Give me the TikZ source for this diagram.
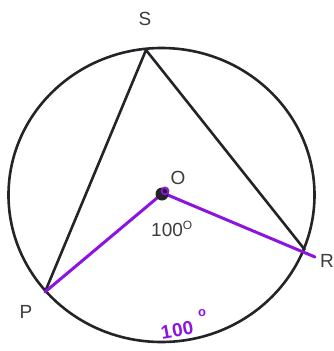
\documentclass[tikz,border=0pt]{standalone}
\usepackage{fontspec}
\setmainfont{Liberation Sans}
\definecolor{ink}{RGB}{35,35,40}
\definecolor{txt}{RGB}{60,60,60}
\definecolor{purp}{RGB}{140,20,225}

\begin{document}
\begin{tikzpicture}[x=1pt,y=-1pt,
  lbl/.style={text=txt,font=\fontsize{19}{22}\selectfont,inner sep=0pt},
  chord/.style={draw=ink,line width=2.6pt,line join=round},
  radius line/.style={draw=purp,line width=3pt,line cap=round}]
  \useasboundingbox (0,0) rectangle (334,351);
  % points on the circle
  \coordinate (C) at (161.5,195);
  \coordinate (O) at (163,193);
  \coordinate (S) at (146,50);
  \coordinate (P) at (45,292);
  \coordinate (R) at (305,250);
  \coordinate (Rx) at (315,257);
  \draw[chord] (C) ellipse [x radius=153,y radius=147];
  \draw[chord] (P) -- (S) -- (R);
  % radii to P and R
  \draw[radius line] (P) -- (O) -- (Rx);
  \fill[ink] (O) ++(-1,1) circle [radius=6.5];
  \draw[purp,line width=1.8pt] (O) ++(2,-2) circle [radius=3.5];
  % labels
  \node[lbl] (lS) at (145,19) {S};
  \node[lbl] (lO) at (178,178) {O};
  \node[lbl] (lP) at (26,312) {P};
  \node[lbl] (lR) at (327,261) {R};
  \node[lbl] (ang) at (172,229) {100\textsuperscript{\fontsize{12}{12}\selectfont O}};
  \node[text=purp,font=\fontsize{19}{20}\bfseries\selectfont,inner sep=0pt,rotate=10] (arc) at (177,330) {1\kern1pt00};
  \node[text=purp,font=\fontsize{13}{13}\bfseries\selectfont,inner sep=0pt] (arcdeg) at (202,313) {o};
\end{tikzpicture}
\end{document}
